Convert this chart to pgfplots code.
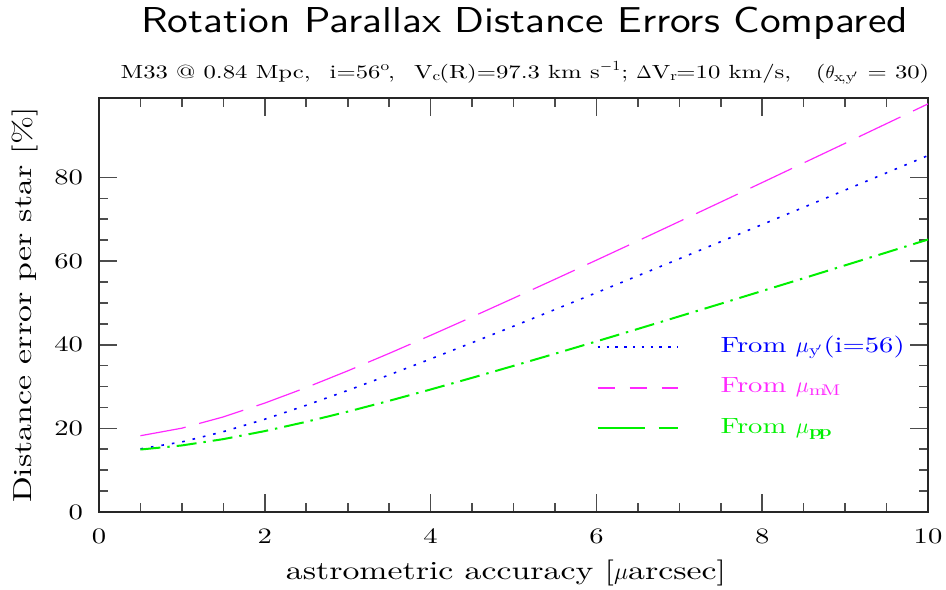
\documentclass[border=0pt]{standalone}
\usepackage{fontspec}
\setmainfont{lmroman10-regular.otf}[FakeStretch=1.3, BoldFont=lmroman10-bold.otf, ItalicFont=lmroman10-italic.otf]
\newfontfamily\titlefont{lmsans10-regular.otf}[FakeStretch=1.15]
\usepackage{pgfplots}
\pgfplotsset{compat=1.18}
\definecolor{mag}{RGB}{255,40,255}
\definecolor{grn}{RGB}{0,240,0}
\definecolor{blu}{RGB}{0,0,255}
\begin{document}
\begin{tikzpicture}
\useasboundingbox (-49.5pt,-38.5pt) rectangle (423.5pt,256pt);
\begin{axis}[
  scale only axis, width=414.5pt, height=207pt, at={(0,0)}, anchor=south west,
  xmin=0, xmax=10, ymin=0, ymax=99,
  xtick={0,2,...,10}, ytick={0,20,...,80},
  minor x tick num=3, minor y tick num=3,
  tick align=inside, major tick length=9pt, minor tick length=4.5pt,
  axis line style={line width=0.8pt, black!85},
  every tick/.style={line width=0.8pt, black!70},
  /pgf/number format/assume math mode=true,
  ticklabel style={font=\fontsize{11}{13}\selectfont},
  xticklabel style={yshift=-5pt},
  yticklabel style={xshift=-4.5pt},
  xlabel={astrometric accuracy [$\mu$arcsec]},
  ylabel={Distance error per star [\%]},
  label style={font=\fontsize{13}{15}\selectfont},
  xlabel style={at={(axis description cs:0.491,-0.147)}, anchor=center},
  ylabel style={at={(axis description cs:-0.089,0.5)}, anchor=center},
  legend image code/.code={\draw[#1] (0pt,0pt) -- (40pt,0pt); \path[draw=none,fill=none] (0pt,0pt) -- (61.5pt,0pt);},
  legend style={at={(rel axis cs:0.60,0.426)}, anchor=north west, draw=none, fill=none,
    inner sep=0pt, column sep=0pt, row sep=9.3pt,
    nodes={inner sep=0pt, text height=8pt, text depth=3pt, font=\fontsize{11}{13}\selectfont}},
  legend cell align=left,
]
\addplot[mag, line width=0.6pt, dash pattern=on 23pt off 7pt, forget plot] coordinates {
(0.5,18.24) (1,20.05) (1.5,22.74) (2,26.05) (2.5,29.76) (3,33.75) (3.5,37.93) (4,42.24)
(4.5,46.65) (5,51.13) (5.5,55.66) (6,60.23) (6.5,64.83) (7,69.47) (7.5,74.12) (8,78.79)
(8.5,83.48) (9,88.17) (9.5,92.88) (10,97.60)};
\addplot[blu, line width=0.8pt, dash pattern=on 1.3pt off 4pt, forget plot] coordinates {
(0.5,15.10) (1,16.76) (1.5,19.21) (2,22.19) (2.5,25.52) (3,29.07) (3.5,32.78) (4,36.60)
(4.5,40.49) (5,44.43) (5.5,48.42) (6,52.44) (6.5,56.49) (7,60.56) (7.5,64.65) (8,68.75)
(8.5,72.86) (9,76.98) (9.5,81.11) (10,85.24)};
\addplot[grn, line width=1pt, dash pattern=on 10pt off 3.5pt on 1.2pt off 3.5pt, forget plot] coordinates {
(0.5,14.94) (1,15.92) (1.5,17.43) (2,19.35) (2.5,21.57) (3,24.00) (3.5,26.59) (4,29.30)
(4.5,32.09) (5,34.95) (5.5,37.85) (6,40.80) (6.5,43.78) (7,46.79) (7.5,49.81) (8,52.86)
(8.5,55.91) (9,58.99) (9.5,62.07) (10,65.16)};
\addlegendimage{blu, line width=0.7pt, dash pattern=on 1.2pt off 3.2pt}
\addlegendentry{\textcolor{blu}{From $\mu_{\mathrm{y}'}$(i=56)}}
\addlegendimage{mag, line width=0.9pt, dash pattern=on 8.5pt off 7.5pt}
\addlegendentry{\textcolor{mag}{From $\mu_{\mathrm{mM}}$}}
\addlegendimage{grn, line width=0.9pt, dash pattern=on 23.5pt off 7pt}
\addlegendentry{\textcolor{grn}{From $\mu_{\mathbf{pp}}$}}
\end{axis}
\node[font=\fontsize{18}{21}\titlefont] at (212.75pt,244.5pt) {Rotation Parallax Distance Errors Compared};
\node[font=\fontsize{9.5}{11}\selectfont] at (213pt,219.5pt) {M33 @ 0.84 Mpc,\hspace{1em}i=56$^{\mathrm{o}}$,\hspace{1em}V$_{\mathrm{c}}$(R)=97.3 km s$^{-1}$; $\Delta$V$_{\mathrm{r}}$=10 km/s,\hspace{1.3em}($\theta_{\mathrm{x,y}'}$ = 30)};
\end{tikzpicture}
\end{document}
